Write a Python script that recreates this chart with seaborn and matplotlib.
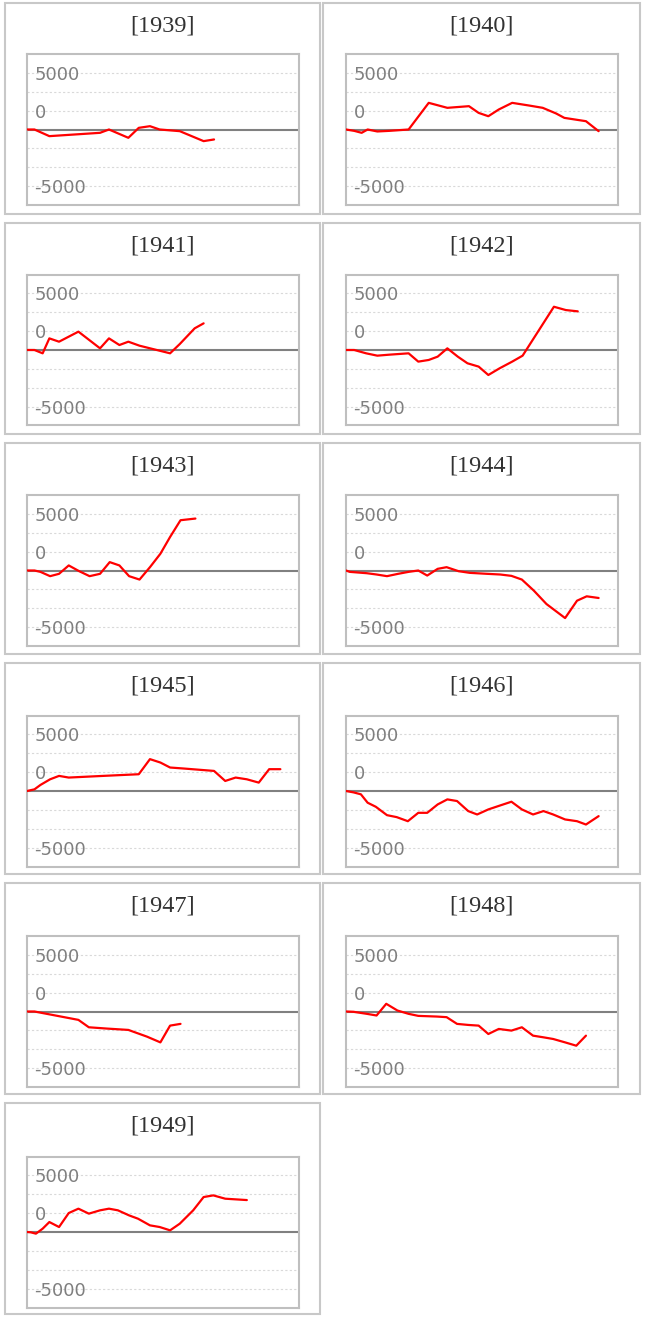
import numpy as np
import pandas as pd
import matplotlib.pyplot as plt
import matplotlib.transforms as mtransforms
from matplotlib.patches import Rectangle
import seaborn as sns

years = [1939, 1940, 1941, 1942, 1943, 1944, 1945, 1946, 1947, 1948, 1949]

# day of year / value
days_1939 = [0, 10, 30, 98, 110, 136, 150, 165, 178, 205, 237, 251]
vals_1939 = [0, 0, -880, -440, 0, -1100, 220, 440, 0, -220, -1540, -1320]

days_1940 = [0, 11, 21, 29, 42, 58, 84, 111, 136, 165, 178, 191, 205, 223, 246, 264, 282, 293, 322, 339]
vals_1940 = [0, -180, -440, 0, -260, -180, 0, 3530, 2870, 3090, 2200, 1760, 2650, 3530, 3170, 2870, 2120, 1540, 1100, -220]

days_1941 = [0, 10, 21, 30, 43, 69, 98, 110, 124, 136, 151, 192, 205, 225, 237]
vals_1941 = [0, 0, -440, 1540, 1100, 2430, 220, 1540, 660, 1100, 570, -440, 790, 2870, 3530]

days_1942 = [0, 11, 27, 42, 58, 84, 97, 111, 123, 136, 150, 163, 178, 191, 206, 223, 237, 279, 295, 311]
vals_1942 = [0, 0, -440, -750, -620, -440, -1540, -1320, -880, 220, -880, -1760, -2200, -3310, -2430, -1540, -750, 5730, 5290, 5120]

days_1943 = [0, 10, 18, 31, 43, 56, 70, 84, 98, 111, 124, 137, 151, 165, 179, 192, 206, 226]
vals_1943 = [0, 0, -180, -750, -440, 670, -90, -750, -440, 1110, 670, -750, -1200, 440, 2220, 4440, 6660, 6880]

days_1944 = [0, 5, 28, 41, 55, 70, 84, 97, 109, 123, 135, 151, 166, 189, 207, 222, 236, 252, 269, 294, 310, 323, 339]
vals_1944 = [0, -180, -360, -530, -750, -440, -180, 0, -670, 220, 440, -90, -310, -440, -530, -710, -1200, -2660, -4440, -6300, -4000, -3420, -3640]

days_1945 = [0, 10, 18, 31, 43, 56, 102, 150, 165, 179, 192, 210, 233, 251, 266, 280, 295, 311, 325, 340]
vals_1945 = [0, 220, 800, 1550, 2000, 1780, 2000, 2220, 4220, 3770, 3110, 2980, 2800, 2660, 1330, 1780, 1550, 1110, 2890, 2890]

days_1946 = [0, 10, 20, 29, 40, 55, 68, 83, 97, 109, 123, 136, 149, 164, 176, 191, 207, 222, 236, 251, 265, 278, 294, 310, 322, 339]
vals_1946 = [0, -180, -440, -1550, -2090, -3200, -3460, -4000, -2890, -2890, -1780, -1110, -1330, -2660, -3110, -2440, -1910, -1420, -2440, -3110, -2660, -3110, -3770, -4000, -4440, -3330]

days_1947 = [0, 10, 69, 83, 107, 136, 161, 179, 192, 206]
vals_1947 = [0, 0, -1110, -2090, -2260, -2440, -3330, -4090, -1870, -1640]

days_1948 = [0, 10, 28, 41, 54, 69, 84, 97, 122, 135, 149, 164, 178, 191, 205, 222, 236, 251, 265, 278, 294, 309, 322]
vals_1948 = [0, -40, -310, -530, 1020, 130, -310, -580, -670, -750, -1640, -1780, -1870, -2980, -2310, -2530, -2090, -3200, -3420, -3640, -4090, -4530, -3200]

days_1949 = [0, 5, 12, 21, 30, 43, 56, 69, 83, 98, 110, 122, 137, 149, 165, 178, 192, 205, 223, 237, 250, 266, 295]
vals_1949 = [0, -40, -220, 440, 1320, 660, 2510, 3090, 2430, 2870, 3090, 2870, 2200, 1760, 880, 660, 220, 1100, 2870, 4630, 4850, 4410, 4230]

series = {
    1939: (days_1939, vals_1939), 1940: (days_1940, vals_1940),
    1941: (days_1941, vals_1941), 1942: (days_1942, vals_1942),
    1943: (days_1943, vals_1943), 1944: (days_1944, vals_1944),
    1945: (days_1945, vals_1945), 1946: (days_1946, vals_1946),
    1947: (days_1947, vals_1947), 1948: (days_1948, vals_1948),
    1949: (days_1949, vals_1949),
}

grid_vals = [-7500, -5000, -2500, 2500, 5000, 7500]
label_pos = [7500, 2500, -7500]
label_txt = ['5000', '0', '-5000']

sns.set_style('white')
plt.rcParams['font.family'] = ['DejaVu Sans']

W, H = 646, 1318
fig = plt.figure(figsize=(W / 100, H / 100), dpi=100)


def px_rect(x0, y0, x1, y1):
    return [x0 / W, 1 - y1 / H, (x1 - x0) / W, (y1 - y0) / H]


for i, yr in enumerate(years):
    col = i % 2
    row = i // 2
    top = 3 + 220 * row
    left, right = (5, 320) if col == 0 else (323, 640)

    # panel frame + title
    fig.patches.append(Rectangle((left / W, 1 - (top + 211) / H), (right - left) / W, 211 / H,
                                 transform=fig.transFigure, fill=False,
                                 edgecolor='#c8c8c8', linewidth=1.5))
    fig.text((left + right) / 2 / W, 1 - (top + 23) / H, f'[{yr}]', ha='center', va='center',
             fontsize=17.5, family='Liberation Serif', color='#333333')

    px0, px1 = (27, 299) if col == 0 else (346, 618)
    shift = 0.5 * row
    ax = fig.add_axes(px_rect(px0, top + 51 + shift, px1, top + 202 + shift))

    d, v = series[yr]
    df = pd.DataFrame({'day': d, 'value': v})
    for g in grid_vals:
        ax.axhline(g, color='#d9d9d9', linestyle=(0, (2, 2)), linewidth=0.8, zorder=0)
    ax.axhline(0, color='#808080', linewidth=1.5, zorder=1)
    sns.lineplot(data=df, x='day', y='value', ax=ax, color='red', linewidth=1.6, sort=False, zorder=3)

    ax.set_xlim(0, 365)
    ax.set_ylim(-10000, 10000)
    ax.set_xticks([])
    ax.set_yticks([])
    ax.set_xlabel('')
    ax.set_ylabel('')
    for s in ax.spines.values():
        s.set_color('#bfbfbf')
        s.set_linewidth(1.5)

    trans = mtransforms.blended_transform_factory(ax.transAxes, ax.transData)
    for p, t in zip(label_pos, label_txt):
        ax.text(0.028, p - 250, t, transform=trans, va='center', ha='left',
                fontsize=13, color='#7f7f7f', zorder=2)

fig.savefig('out.png', dpi=100)
